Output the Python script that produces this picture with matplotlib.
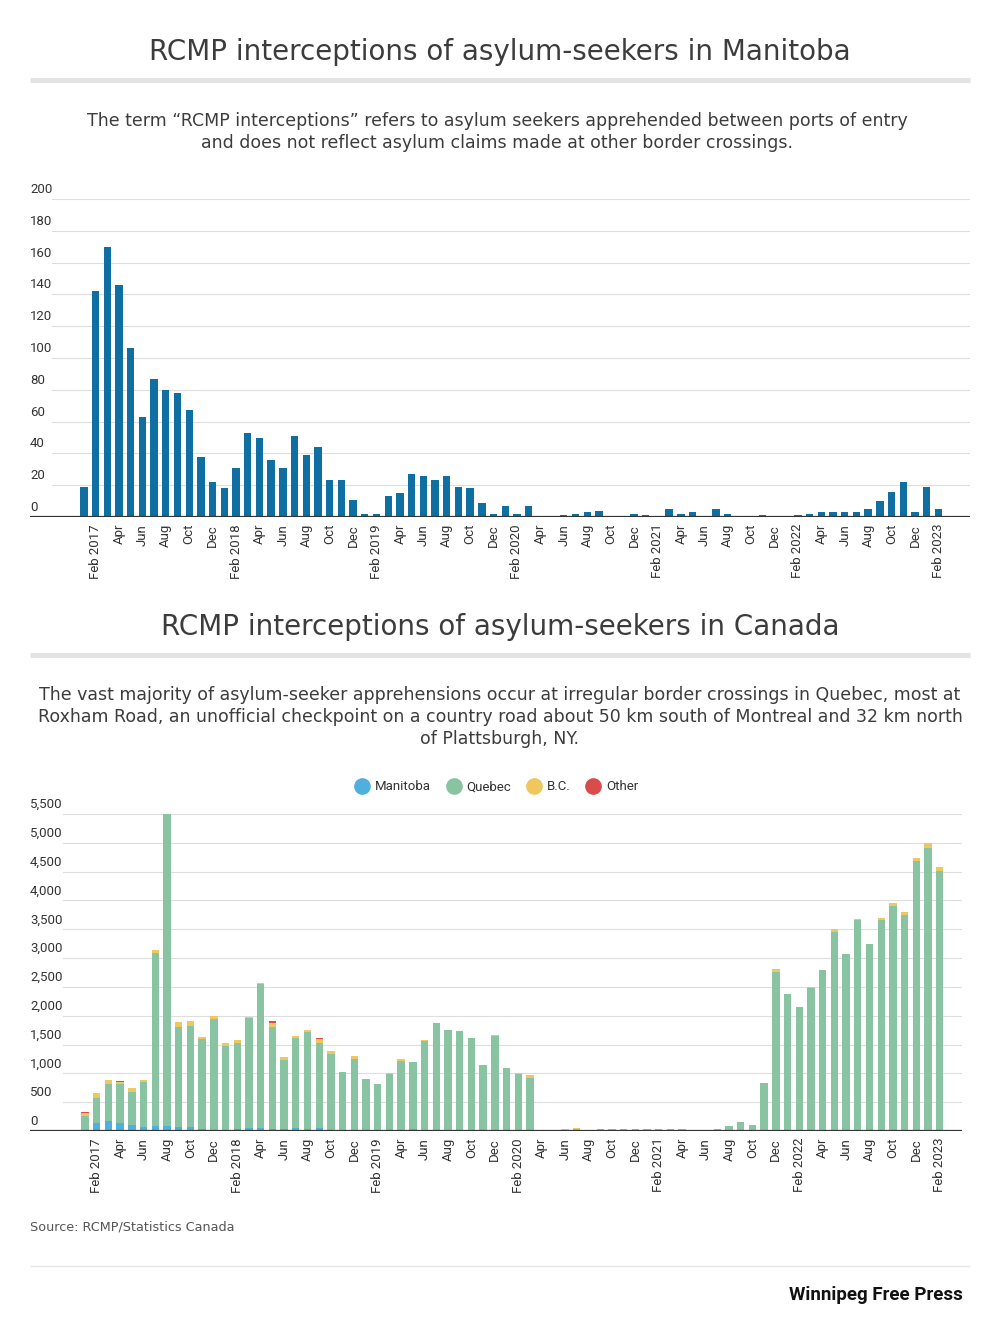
import matplotlib
matplotlib.use("Agg")
import matplotlib.pyplot as plt
from matplotlib.lines import Line2D
import numpy as np

# ---------------- data ----------------
months = ["Jan", "Feb", "Mar", "Apr", "May", "Jun", "Jul", "Aug", "Sep", "Oct", "Nov", "Dec"]
years = [2017, 2018, 2019, 2020, 2021, 2022, 2023]

manitoba = [19, 142, 170, 146, 106, 63, 87, 80, 78, 67, 38, 22,
            18, 31, 53, 50, 36, 31, 51, 39, 44, 23, 23, 11,
            2, 2, 13, 15, 27, 26, 23, 26, 19, 18, 9, 2,
            7, 2, 7, 0, 0, 1, 2, 3, 4, 0, 0, 2,
            1, 0, 5, 2, 3, 0, 5, 2, 0, 0, 1, 0,
            0, 1, 2, 3, 3, 3, 3, 5, 10, 16, 22, 3,
            19, 5]

quebec = [241, 436, 639, 663, 570, 792, 2994, 5420, 1731, 1759, 1552, 1926,
          1462, 1501, 1901, 2493, 1773, 1200, 1556, 1683, 1476, 1321, 993, 1241,
          892, 806, 980, 1202, 1173, 1543, 1852, 1728, 1718, 1597, 1139, 1654,
          1089, 991, 921, 3, 10, 25, 30, 7, 24, 27, 27, 25,
          26, 27, 22, 25, 12, 15, 22, 77, 148, 108, 826, 2755,
          2370, 2150, 2485, 2791, 3448, 3064, 3661, 3236, 3644, 3882, 3725, 4683,
          4888, 4507]

bc = [46, 87, 75, 40, 75, 29, 58, 0, 87, 87, 46, 46,
      52, 46, 17, 23, 69, 52, 46, 35, 75, 40, 5, 46,
      5, 5, 5, 40, 5, 5, 5, 5, 5, 5, 5, 5,
      5, 5, 35, 2, 2, 3, 14, 2, 12, 2, 2, 2,
      2, 2, 2, 2, 8, 2, 2, 2, 2, 2, 2, 52,
      8, 7, 7, 7, 52, 7, 7, 7, 40, 52, 46, 58,
      93, 64]

other = [15, 0, 0, 20, 0, 0, 0, 0, 0, 0, 0, 0,
         0, 0, 0, 0, 23, 0, 0, 0, 23, 0, 0, 0,
         0, 0, 0, 0, 0, 0, 0, 0, 0, 0, 0, 0,
         0, 0, 0, 0, 0, 0, 0, 0, 0, 0, 0, 0,
         0, 0, 0, 0, 0, 0, 0, 0, 0, 0, 0, 0,
         0, 0, 0, 0, 0, 0, 0, 0, 0, 0, 0, 0,
         0, 0]

top_yticks = [0, 20, 40, 60, 80, 100, 120, 140, 160, 180, 200]
bot_yticks = [0, 500, 1000, 1500, 2000, 2500, 3000, 3500, 4000, 4500, 5000, 5500]

series_names = ["Manitoba", "Quebec", "B.C.", "Other"]

# ---------------- labels ----------------
labels_all = []
for y in years:
    for m in months:
        labels_all.append((m, y))
labels_all = labels_all[:len(manitoba)]
n = len(labels_all)
x = np.arange(n)
tick_idx = [i for i in range(n) if labels_all[i][0] in ("Feb", "Apr", "Jun", "Aug", "Oct", "Dec")]
tick_lbl = [f"{labels_all[i][0]} {labels_all[i][1]}" if labels_all[i][0] == "Feb" else labels_all[i][0]
            for i in tick_idx]

# ---------------- style ----------------
TXT = "#3c3c3c"
TICK = "#333333"
GRID = "#dedede"
C_TOP = "#0f6fa3"
C_MB = "#4fb0e0"
C_QC = "#89c4a2"
C_BC = "#f0c75c"
C_OT = "#d84c4c"
TFONT = ["DejaVu Sans"]
RFONT = ["Roboto", "DejaVu Sans"]

W, H = 1000, 1328
fig = plt.figure(figsize=(W / 100, H / 100), dpi=100)
fig.patch.set_facecolor("white")

def fy(py):
    return 1 - py / H

def fx(px):
    return px / W

def hline(y, x0, x1, lw, color):
    fig.add_artist(Line2D([fx(x0), fx(x1)], [fy(y), fy(y)], transform=fig.transFigure,
                          color=color, lw=lw, solid_capstyle="butt"))

# titles
fig.text(0.5, fy(52), "RCMP interceptions of asylum-seekers in Manitoba", ha="center", va="center",
         fontsize=20, color=TXT, family=TFONT)
hline(80, 30, 970, 3.5, "#e3e3e3")
fig.text(0.497, fy(132), "The term \u201cRCMP interceptions\u201d refers to asylum seekers apprehended between ports of entry\n"
         "and does not reflect asylum claims made at other border crossings.",
         ha="center", va="center", fontsize=12.5, color=TXT, family=TFONT, linespacing=1.3)

fig.text(0.5, fy(627), "RCMP interceptions of asylum-seekers in Canada", ha="center", va="center",
         fontsize=20, color=TXT, family=TFONT)
hline(655, 30, 970, 3.5, "#e3e3e3")
fig.text(0.5, fy(717), "The vast majority of asylum-seeker apprehensions occur at irregular border crossings in Quebec, most at\n"
         "Roxham Road, an unofficial checkpoint on a country road about 50 km south of Montreal and 32 km north\n"
         "of Plattsburgh, NY.",
         ha="center", va="center", fontsize=12.5, color=TXT, family=TFONT, linespacing=1.3)


def style_axes(ax, yticks, fmt, grid_x0):
    for s in ax.spines.values():
        s.set_visible(False)
    ax.axhline(0, color="#333333", lw=1.6, zorder=5)
    for v in yticks:
        if v != 0:
            ax.axhline(v, xmin=grid_x0, xmax=1, color=GRID, lw=0.8, zorder=0)
        ax.annotate(fmt(v), xy=(0, v), xycoords=("axes fraction", "data"), xytext=(0, 3),
                    textcoords="offset pixels", ha="left", va="bottom", fontsize=9.5,
                    color=TICK, family=RFONT)
    ax.set_yticks([])
    ax.set_xticks(tick_idx)
    ax.set_xticklabels(tick_lbl, rotation=90, fontsize=9.5, color=TICK, family=RFONT)
    ax.tick_params(axis="x", length=0, pad=5)
    ax.set_ylim(yticks[0], yticks[-1])


# top chart
ax1 = fig.add_axes([fx(30), fy(517), fx(940), (517 - 199) / H])
ax1.bar(x, manitoba, width=0.63, color=C_TOP, zorder=3)
ax1.set_xlim(-4.6, n - 1 + 2.7)
style_axes(ax1, top_yticks, lambda v: f"{v}", 22 / 940)

# bottom chart
ax2 = fig.add_axes([fx(30), fy(1131), fx(932), (1131 - 814) / H])
vals = [manitoba, quebec, bc, other]
cols = [C_MB, C_QC, C_BC, C_OT]
bottom = np.zeros(n)
for name, v, c in zip(series_names, vals, cols):
    ax2.bar(x, v, bottom=bottom, width=0.63, color=c, zorder=3, label=name)
    bottom = bottom + np.array(v)
ax2.set_xlim(-4.7, n - 1 + 1.9)
style_axes(ax2, bot_yticks, lambda v: f"{v:,}", 33 / 932)

handles = [Line2D([], [], marker="o", ls="", markersize=11, markerfacecolor=c, markeredgecolor=c)
           for c in cols]
leg = fig.legend(handles, series_names, loc="center", bbox_to_anchor=(0.497, fy(787)), ncol=4,
                 frameon=False, handletextpad=0.5, columnspacing=1.2, handlelength=1.0,
                 prop={"family": RFONT, "size": 9.5})
for t in leg.get_texts():
    t.set_color(TICK)

# footer
fig.text(fx(30), fy(1227), "Source: RCMP/Statistics Canada", ha="left", va="center", fontsize=9.2,
         color="#555555", family=TFONT)
hline(1266, 30, 970, 1.0, "#e6e6e6")
fig.text(fx(963), fy(1295), "Winnipeg Free Press", ha="right", va="center", fontsize=13.5,
         fontweight="bold", color="#111111", family=["Roboto", "DejaVu Sans"])

fig.savefig("out.png", dpi=100, facecolor="white")
